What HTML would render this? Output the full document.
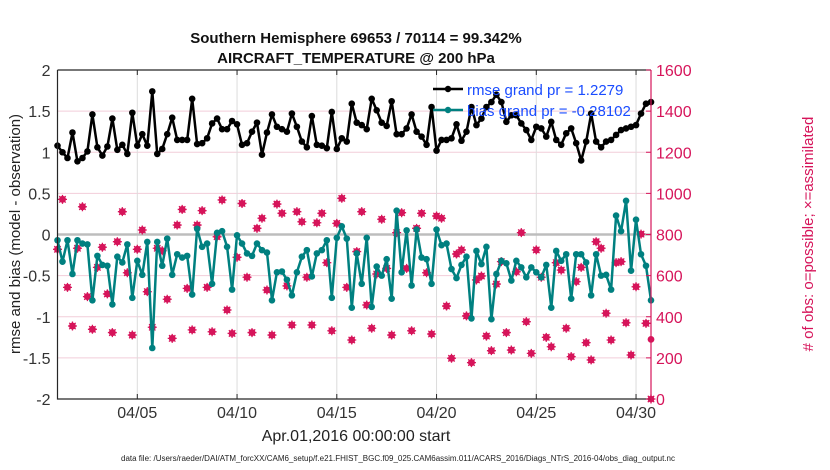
<!DOCTYPE html>
<html><head><meta charset="utf-8"><style>
body{margin:0;background:#fff;}
svg{display:block;font-family:"Liberation Sans",sans-serif;}
</style></head><body>
<svg id="chart" width="830" height="470" viewBox="0 0 830 470">
<rect width="830" height="470" fill="#fff"/>
<text x="356" y="43" text-anchor="middle" font-size="15" font-weight="bold" fill="#111">Southern Hemisphere 69653 / 70114 = 99.342%</text>
<text x="356" y="63" text-anchor="middle" font-size="15" font-weight="bold" fill="#111">AIRCRAFT_TEMPERATURE @ 200 hPa</text>
<g id="grid"></g>
<g id="series"></g>
<g id="axes"></g>
<text transform="translate(20,234) rotate(-90)" text-anchor="middle" font-size="15" fill="#222">rmse and bias (model - observation)</text>
<text transform="translate(813,234) rotate(-90)" text-anchor="middle" font-size="15" fill="#d6145a"># of obs: o=possible; ×=assimilated</text>
<text x="356" y="441" text-anchor="middle" font-size="16" fill="#222">Apr.01,2016 00:00:00 start</text>
<text x="121" y="461" font-size="7.8" fill="#222" textLength="554" lengthAdjust="spacingAndGlyphs">data file: /Users/raeder/DAI/ATM_forcXX/CAM6_setup/f.e21.FHIST_BGC.f09_025.CAM6assim.011/ACARS_2016/Diags_NTrS_2016-04/obs_diag_output.nc</text>
<g>
<line x1="433" y1="89" x2="463" y2="89" stroke="#000" stroke-width="2.5"/>
<circle cx="448" cy="89" r="3.2" fill="#000"/>
<text x="467" y="95" font-size="15" fill="#1a4cff">rmse grand pr = 1.2279</text>
<line x1="433" y1="110" x2="463" y2="110" stroke="#008080" stroke-width="2.5"/>
<circle cx="448" cy="110" r="3.2" fill="#008080"/>
<text x="467" y="116" font-size="15" fill="#1a4cff">bias grand pr = -0.28102</text>
</g>
</svg>
<script>
const tickDays = [5,10,15,20,25,30];
const tickLabels = ["04/05","04/10","04/15","04/20","04/25","04/30"];
const leftTicks = [2,1.5,1,0.5,0,-0.5,-1,-1.5,-2];
const leftTickLabels = ["2","1.5","1","0.5","0","-0.5","-1","-1.5","-2"];
const rightTicks = [1600,1400,1200,1000,800,600,400,200,0];
const rmse = [1.08,1.00,0.93,1.24,0.89,0.93,1.01,1.46,1.06,0.96,1.07,1.41,1.03,1.09,0.98,1.48,1.08,1.22,1.08,1.74,0.98,1.04,1.22,1.42,1.15,1.15,1.15,1.65,1.10,1.11,
1.17,1.35,1.41,1.28,1.28,1.38,1.34,1.09,1.11,1.25,1.36,0.97,1.24,1.46,1.31,1.28,1.25,1.47,1.31,1.13,1.06,1.44,1.09,1.08,1.05,1.49,1.04,1.17,1.13,1.59,
1.36,1.33,1.28,1.65,1.51,1.36,1.32,1.62,1.22,1.22,1.29,1.46,1.25,1.19,1.09,1.55,1.02,1.15,1.15,1.17,1.34,1.14,1.25,1.55,1.33,1.41,1.55,1.61,1.70,1.61,
1.37,1.45,1.45,1.35,1.27,1.15,1.31,1.29,1.19,1.37,1.15,1.09,1.23,1.29,1.11,0.90,1.13,1.47,1.13,1.06,1.13,1.15,1.21,1.27,1.29,1.31,1.33,1.47,1.59,1.61];
const bias = [-0.07,-0.33,-0.07,-0.48,-0.07,-0.11,-0.12,-0.80,-0.26,-0.37,-0.38,-0.85,-0.27,-0.34,-0.12,-0.77,-0.32,-0.49,-0.09,-1.38,-0.09,-0.38,-0.05,-0.49,-0.24,-0.28,-0.26,-0.73,0.07,-0.15,
-0.11,-0.60,0.02,0.04,-0.15,-0.67,-0.01,-0.11,-0.23,-0.26,-0.11,-0.19,-0.22,-0.80,-0.46,-0.45,-0.55,-0.74,-0.46,-0.27,-0.19,-0.51,-0.23,-0.19,-0.07,-0.77,-0.04,0.10,-0.05,-0.89,
-0.23,-0.60,-0.04,-0.88,-0.39,-0.50,-0.30,-0.78,0.29,-0.46,0.05,-0.62,0.06,-0.28,-0.30,-0.60,0.06,-0.13,-0.11,-0.42,-0.53,-0.37,-0.27,-1.02,-0.20,-0.36,-0.15,-1.03,-0.48,-0.32,
-0.35,-0.56,-0.32,-0.40,-0.52,-0.40,-0.46,-0.52,-0.37,-0.89,-0.20,-0.32,-0.24,-0.78,-0.24,-0.24,-0.34,-0.74,-0.24,-0.50,-0.49,-0.67,0.23,0.04,0.41,-0.44,0.18,-0.24,-0.38,-0.80];
const possible = [728,971,543,355,733,935,498,339,640,738,511,323,765,911,614,311,728,822,522,349,733,721,485,295,846,922,538,336,846,916,
543,327,789,968,433,319,689,951,592,323,830,879,530,311,948,903,550,360,911,862,592,360,857,903,663,332,854,976,543,287,
717,911,457,344,608,874,635,311,809,906,635,332,830,903,614,316,890,879,452,198,705,725,404,177,579,598,306,235,559,668,
323,238,619,809,376,222,725,592,300,254,663,627,344,206,571,640,274,190,765,733,417,287,663,668,371,214,546,802,368,290];
const assimilated = [728,971,543,355,733,935,498,339,640,738,511,323,765,911,614,311,728,822,522,349,733,721,485,295,846,922,538,336,846,916,
543,327,789,968,433,319,689,951,592,323,830,879,530,311,948,903,550,360,911,862,592,360,857,903,663,332,854,976,543,287,
717,911,457,344,608,874,635,311,809,906,635,332,830,903,614,316,890,879,452,198,705,725,404,177,579,598,306,235,559,668,
323,238,619,809,376,222,725,592,300,254,663,627,344,206,571,640,274,190,765,733,417,287,663,668,371,214,546,802,368,0];

const NS='http://www.w3.org/2000/svg';
const L=57.5,R=651,T=70,B=399;
const dayMin=1,dayMax=30.75;
function xDay(d){return L+(d-dayMin)/(dayMax-dayMin)*(R-L);}
function xIdx(i){return xDay(1+i*0.25);}
function yL(v){return T+(2-v)/4*(B-T);}
function yR(c){return B-c/1600*(B-T);}
function mk(tag,attrs,parent){const e=document.createElementNS(NS,tag);for(const k in attrs)e.setAttribute(k,attrs[k]);parent.appendChild(e);return e;}
const grid=document.getElementById('grid'),ser=document.getElementById('series'),ax=document.getElementById('axes');

leftTicks.forEach(v=>{
  if(v===2||v===-2)return;
  const g=mk('line',{x1:L,x2:R,y1:yL(v),y2:yL(v),stroke:'#f2cdd9','stroke-width':1},grid);
  
  
});
tickDays.forEach(d=>{
  const g=mk('line',{x1:xDay(d),x2:xDay(d),y1:T,y2:B,stroke:'#dcdcdc','stroke-width':1},grid);
  
  
});
const zl=mk('line',{x1:L,x2:R,y1:yL(0),y2:yL(0),stroke:'#bdbdbd','stroke-width':2.5},grid);



function star(cx,cy,parent,name){
  const g=mk('g',{},parent);
  
  
  mk('circle',{cx:cx,cy:cy,r:3.3,fill:'#d6145a'},g);
  const s=4.5;
  mk('path',{d:`M${cx-s} ${cy}H${cx+s}M${cx} ${cy-s}V${cy+s}M${cx-3.2} ${cy-3.2}L${cx+3.2} ${cy+3.2}M${cx-3.2} ${cy+3.2}L${cx+3.2} ${cy-3.2}`,stroke:'#d6145a','stroke-width':1.3},g);
}
possible.forEach((c,i)=>{
  const p=mk('circle',{cx:xIdx(i),cy:yR(c),r:3.4,fill:'#d6145a'},ser);
  
  
});
assimilated.forEach((c,i)=>{star(xIdx(i),yR(c),ser,'assimilated-obs-point');});

function line(vals,color,name,ptName){
  const pl=mk('polyline',{points:vals.map((v,i)=>xIdx(i).toFixed(1)+','+yL(v).toFixed(1)).join(' '),fill:'none',stroke:color,'stroke-width':2.5,'stroke-linejoin':'round'},ser);
  
  
  vals.forEach((v,i)=>{
    const c=mk('circle',{cx:xIdx(i),cy:yL(v),r:3.3,fill:color},ser);
    
    
  });
}
line(bias,'#008080','bias-line','bias-point');
line(rmse,'#000','rmse-line','rmse-point');

const frame=mk('path',{d:`M${L} ${T}H${R}M${L} ${T}V${B}H${R}`,fill:'none',stroke:'#262626','stroke-width':1.2},ax);


const ra=mk('line',{x1:R,x2:R,y1:T,y2:B,stroke:'#d6145a','stroke-width':1.2},ax);


tickDays.forEach((d,i)=>{
  mk('line',{x1:xDay(d),x2:xDay(d),y1:B,y2:B-5,stroke:'#262626'},ax);
  mk('line',{x1:xDay(d),x2:xDay(d),y1:T,y2:T+5,stroke:'#262626'},ax);
  const t=mk('text',{x:xDay(d),y:B+19,'text-anchor':'middle','font-size':16,fill:'#333'},ax);
  t.textContent=tickLabels[i];
  
  
});
leftTicks.forEach((v,i)=>{
  const t=mk('text',{x:L-7,y:yL(v)+6,'text-anchor':'end','font-size':16,fill:'#333'},ax);
  t.textContent=leftTickLabels[i];
  
  
});
rightTicks.forEach(c=>{
  mk('line',{x1:R,x2:R-5,y1:yR(c),y2:yR(c),stroke:'#d6145a'},ax);
  const t=mk('text',{x:R+5,y:yR(c)+6,'font-size':16,fill:'#d6145a'},ax);
  t.textContent=String(c);
  
  
});
</script>
</body></html>
